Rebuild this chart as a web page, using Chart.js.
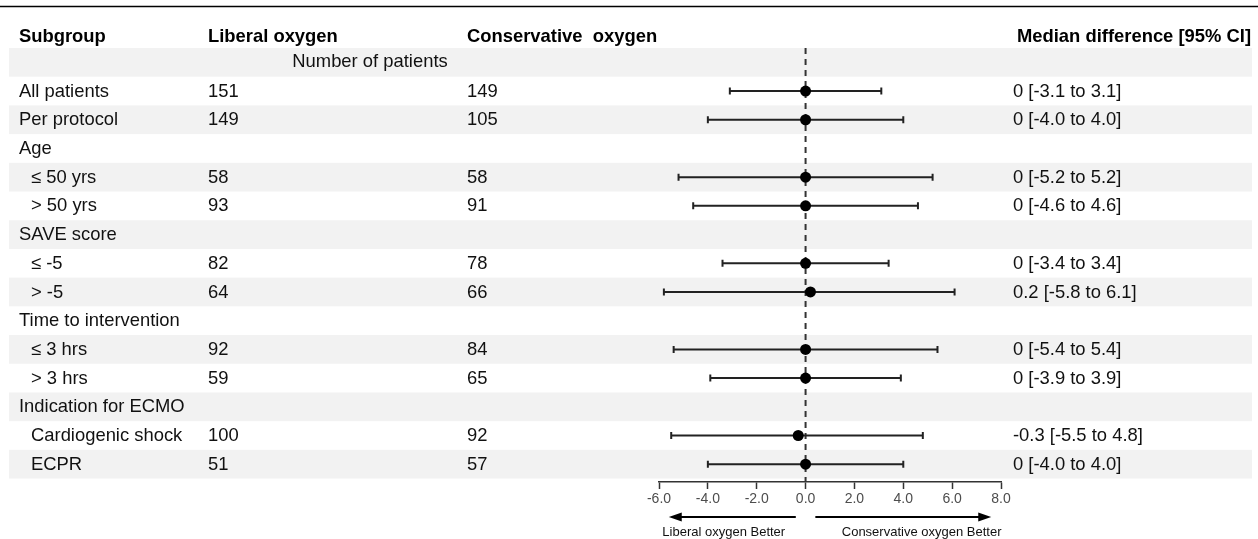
<!DOCTYPE html>
<html>
<head>
<meta charset="utf-8">
<script src="https://cdn.jsdelivr.net/npm/chart.js@4.4.1/dist/chart.umd.min.js"></script>
<style>
html,body{margin:0;padding:0;background:#fff;}
canvas{display:block;}
</style>
</head>
<body>
<canvas id="c" width="1258" height="539"></canvas>
<script>
const subgroups = ['', 'All patients', 'Per protocol', 'Age', '≤ 50 yrs', '> 50 yrs', 'SAVE score', '≤ -5', '> -5', 'Time to intervention', '≤ 3 hrs', '> 3 hrs', 'Indication for ECMO', 'Cardiogenic shock', 'ECPR'];
const indented = [false, false, false, false, true, true, false, true, true, false, true, true, false, true, true];
const liberalN = [null, 151, 149, null, 58, 93, null, 82, 64, null, 92, 59, null, 100, 51];
const conservativeN = [null, 149, 105, null, 58, 91, null, 78, 66, null, 84, 65, null, 92, 57];
const medianDiff = [null, 0, 0, null, 0, 0, null, 0, 0.2, null, 0, 0, null, -0.3, 0];
const ciLower = [null, -3.1, -4.0, null, -5.2, -4.6, null, -3.4, -5.8, null, -5.4, -3.9, null, -5.5, -4.0];
const ciUpper = [null, 3.1, 4.0, null, 5.2, 4.6, null, 3.4, 6.1, null, 5.4, 3.9, null, 4.8, 4.0];
const xTicks = [-6, -4, -2, 0, 2, 4, 6, 8];
const headers = ['Subgroup', 'Liberal oxygen', 'Conservative  oxygen', 'Median difference [95% CI]'];
const subHeader = 'Number of patients';
const arrowLabels = ['Liberal oxygen Better', 'Conservative oxygen Better'];

const FONT = '"Liberation Sans", Arial, sans-serif';

const points = [];
medianDiff.forEach((m, i) => { if (m !== null) points.push({x: m, y: i}); });

function fmtDiff(i) {
  return `${medianDiff[i]} [${ciLower[i].toFixed(1)} to ${ciUpper[i].toFixed(1)}]`;
}

const forestPlugin = {
  id: 'forest',
  beforeDraw(chart) {
    const ctx = chart.ctx;
    const y = chart.scales.y;
    const rowH = Math.abs(y.getPixelForValue(1) - y.getPixelForValue(0));
    ctx.save();
    ctx.fillStyle = '#fff';
    ctx.fillRect(0, 0, chart.width, chart.height);
    ctx.fillStyle = '#f2f2f2';
    subgroups.forEach((s, i) => {
      if (i % 2 === 0) {
        const cy = y.getPixelForValue(i);
        ctx.fillRect(9, cy - rowH / 2, 1243, rowH);
      }
    });
    ctx.strokeStyle = '#000';
    ctx.lineWidth = 1.5;
    ctx.beginPath();
    ctx.moveTo(0, 6.5);
    ctx.lineTo(chart.width, 6.5);
    ctx.stroke();
    ctx.restore();
  },
  beforeDatasetsDraw(chart) {
    const ctx = chart.ctx;
    const x = chart.scales.x;
    const y = chart.scales.y;
    const area = chart.chartArea;
    ctx.save();
    const x0 = x.getPixelForValue(0);
    ctx.strokeStyle = '#333';
    ctx.lineWidth = 2;
    ctx.setLineDash([6, 5]);
    ctx.beginPath();
    ctx.moveTo(x0, area.top);
    ctx.lineTo(x0, area.bottom);
    ctx.stroke();
    ctx.setLineDash([]);
    ctx.strokeStyle = '#222';
    ctx.lineWidth = 2;
    medianDiff.forEach((m, i) => {
      if (m === null) return;
      const cy = y.getPixelForValue(i);
      const xl = x.getPixelForValue(ciLower[i]);
      const xr = x.getPixelForValue(ciUpper[i]);
      ctx.beginPath();
      ctx.moveTo(xl, cy); ctx.lineTo(xr, cy);
      ctx.moveTo(xl, cy - 3.5); ctx.lineTo(xl, cy + 3.5);
      ctx.moveTo(xr, cy - 3.5); ctx.lineTo(xr, cy + 3.5);
      ctx.stroke();
    });
    ctx.restore();
  },
  afterDraw(chart) {
    const ctx = chart.ctx;
    const x = chart.scales.x;
    const y = chart.scales.y;
    const area = chart.chartArea;
    ctx.save();
    ctx.fillStyle = '#000';
    ctx.textBaseline = 'middle';
    ctx.font = `bold 18.4px ${FONT}`;
    const hy = area.top - 11.5;
    ctx.textAlign = 'left';
    ctx.fillText(headers[0], 19, hy);
    ctx.fillText(headers[1], 208, hy);
    ctx.fillText(headers[2], 467, hy);
    ctx.textAlign = 'right';
    ctx.fillText(headers[3], 1251, hy);
    ctx.font = `18.4px ${FONT}`;
    ctx.fillStyle = '#111';
    ctx.textAlign = 'center';
    ctx.fillText(subHeader, 370, y.getPixelForValue(0));
    ctx.textAlign = 'left';
    subgroups.forEach((s, i) => {
      const cy = y.getPixelForValue(i) + 0.5;
      if (s) ctx.fillText(s, indented[i] ? 31 : 19, cy);
      if (liberalN[i] !== null) ctx.fillText(String(liberalN[i]), 208, cy);
      if (conservativeN[i] !== null) ctx.fillText(String(conservativeN[i]), 467, cy);
      if (medianDiff[i] !== null) ctx.fillText(fmtDiff(i), 1013, cy);
    });
    const ay = area.bottom + 35;
    ctx.strokeStyle = '#000';
    ctx.fillStyle = '#000';
    ctx.lineWidth = 2;
    const segs = [[-0.4, -5.6], [0.4, 7.6]];
    segs.forEach(([a, b]) => {
      const xa = x.getPixelForValue(a);
      const xb = x.getPixelForValue(b);
      const dir = Math.sign(xb - xa);
      ctx.beginPath();
      ctx.moveTo(xa, ay);
      ctx.lineTo(xb - dir * 10, ay);
      ctx.stroke();
      ctx.beginPath();
      ctx.moveTo(xb, ay);
      ctx.lineTo(xb - dir * 13, ay - 4.5);
      ctx.lineTo(xb - dir * 13, ay + 4.5);
      ctx.closePath();
      ctx.fill();
    });
    ctx.font = `13px ${FONT}`;
    ctx.fillStyle = '#111';
    ctx.textAlign = 'center';
    ctx.fillText(arrowLabels[0], x.getPixelForValue(-3.35), ay + 15);
    ctx.fillText(arrowLabels[1], x.getPixelForValue(4.75), ay + 15);
    ctx.restore();
  }
};

new Chart(document.getElementById('c'), {
  type: 'scatter',
  data: {
    datasets: [{
      data: points,
      backgroundColor: '#000',
      borderColor: '#000',
      pointRadius: 5.5,
      pointHoverRadius: 5.5,
      borderWidth: 0
    }]
  },
  options: {
    responsive: false,
    animation: false,
    events: [],
    layout: { padding: { left: 659, right: 257, top: 48, bottom: 27 } },
    plugins: { legend: { display: false }, tooltip: { enabled: false } },
    scales: {
      x: {
        type: 'linear',
        min: xTicks[0],
        max: xTicks[xTicks.length - 1],
        afterFit: (s) => { s.height = 30; },
        afterBuildTicks: (s) => { s.ticks = xTicks.map(v => ({ value: v })); },
        ticks: {
          autoSkip: false,
          maxRotation: 0,
          padding: 2,
          color: '#4d4d4d',
          font: { family: FONT, size: 14 },
          callback: (v) => Number(v).toFixed(1)
        },
        grid: { drawOnChartArea: false, drawTicks: true, tickLength: 7, color: '#333', tickWidth: 1.5 },
        border: { display: true, color: '#333', width: 1.5 }
      },
      y: {
        type: 'linear',
        display: false,
        reverse: true,
        min: -0.5,
        max: 14.62
      }
    }
  },
  plugins: [forestPlugin]
});
</script>
</body>
</html>
